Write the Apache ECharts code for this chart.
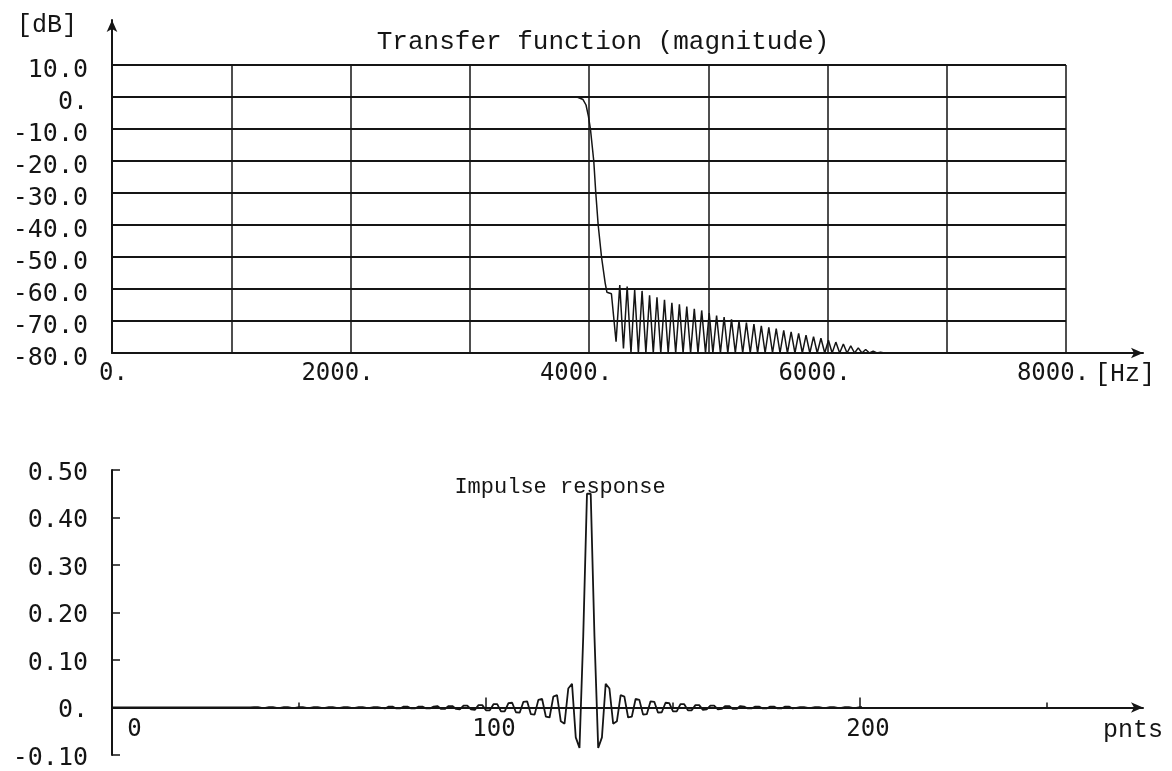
<!DOCTYPE html>
<html>
<head>
<meta charset="utf-8">
<title>Transfer function / Impulse response</title>
<script src="https://cdn.jsdelivr.net/npm/echarts@6.0.0/dist/echarts.min.js"></script>
<style>
  html, body { margin: 0; padding: 0; background: #fff; }
  #chart { width: 1172px; height: 771px; }
</style>
</head>
<body>
<div id="chart"></div>
<script>
// magnitude response (Hz / dB)
const freqHz = [
  0, 1000, 2000, 3000, 3900, 3950, 3975, 3995, 4012, 4040, 4057, 4077, 4105, 4135, 4150, 4188, 4227,
  4258, 4289, 4320, 4352, 4383, 4414, 4445, 4477, 4508, 4539, 4570, 4602,
  4633, 4664, 4695, 4727, 4758, 4789, 4820, 4852, 4883, 4914, 4945, 4977,
  5008, 5039, 5070, 5102, 5133, 5164, 5195, 5227, 5258, 5289, 5320, 5352,
  5383, 5414, 5445, 5477, 5508, 5539, 5570, 5602, 5633, 5664, 5695, 5727,
  5758, 5789, 5820, 5852, 5883, 5914, 5945, 5977, 6008, 6039, 6070, 6102,
  6133, 6164, 6195, 6227, 6258, 6289, 6320, 6352, 6383, 6414, 6445, 6477,
  8000
];
const magDb = [
  0, 0, 0, 0, 0, -0.8, -2.5, -6, -10, -20, -30, -40, -50, -58, -61, -61.5, -76.5,
  -58.8, -78.6, -59.2, -80, -60.3, -80, -60.6, -80, -62.0, -80, -62.6, -80,
  -63.4, -80, -64.3, -80, -64.8, -80, -65.5, -80, -66.2, -80, -66.7, -80,
  -67.5, -80, -68.3, -80, -68.8, -80, -69.5, -80, -70.0, -80, -70.5, -80,
  -71.0, -80, -71.5, -80, -72.0, -80, -72.4, -80, -72.9, -80, -73.4, -80,
  -73.9, -80, -74.4, -80, -74.9, -80, -75.4, -80, -76.0, -80, -76.6, -80,
  -77.2, -80, -77.8, -80, -78.4, -80, -78.9, -80, -79.4, -80, -79.8, -80,
  -80
];

// impulse response, 256 taps (index = pnts)
const impulse = [
  0, 0, 0, 0, 0, 0, 0, 0,
  0, 0, 0, 0, 0, 0, 0, 0, 0, 0,
  0, 0, 0, 0, 0, 0, 0, 0, 0, 0,
  0, 0, 0, 0, 0, 0, 0, 0, 0, 0,
  0.001, 0.001, -0.001, -0.001, 0.001, 0.001, -0.001, -0.001, 0.001, 0.001,
  -0.001, -0.001, 0.001, 0.001, -0.001, -0.001, 0.001, 0.001, -0.001, -0.001,
  0.001, 0.001, -0.001, -0.001, 0.001, 0.001, -0.001, -0.001, 0.001, 0.001,
  -0.001, -0.001, 0.001, 0.001, -0.001, -0.002, 0.002, 0.002, -0.002, -0.002,
  0.002, 0.002, -0.002, -0.002, 0.002, 0.002, -0.002, -0.002, 0.002, 0.003,
  -0.003, -0.003, 0.003, 0.003, -0.003, -0.004, 0.004, 0.004, -0.004, -0.005,
  0.005, 0.005, -0.006, -0.006, 0.007, 0.007, -0.008, -0.008, 0.009, 0.010,
  -0.010, -0.011, 0.012, 0.013, -0.014, -0.015, 0.016, 0.018, -0.019, -0.021,
  0.023, 0.026, -0.029, -0.034, 0.040, 0.050, -0.063, -0.085, 0.150, 0.450,
  0.450, 0.150, -0.085, -0.063, 0.050, 0.040, -0.034, -0.029, 0.026, 0.023,
  -0.021, -0.019, 0.018, 0.016, -0.015, -0.014, 0.013, 0.012, -0.011, -0.010,
  0.010, 0.009, -0.008, -0.008, 0.007, 0.007, -0.006, -0.006, 0.005, 0.005,
  -0.005, -0.004, 0.004, 0.004, -0.004, -0.003, 0.003, 0.003, -0.003, -0.003,
  0.003, 0.002, -0.002, -0.002, 0.002, 0.002, -0.002, -0.002, 0.002, 0.002,
  -0.002, -0.002, 0.002, 0.002, -0.002, -0.001, 0.001, 0.001, -0.001, -0.001,
  0.001, 0.001, -0.001, -0.001, 0.001, 0.001, -0.001, -0.001, 0.001, 0.001,
  -0.001, -0.001, 0.001, 0.001, -0.001, -0.001, 0.001, 0.001, -0.001, -0.001,
  0.001, 0.001, -0.001, -0.001, 0.001, 0.001, -0.001, -0.001, 0.001, 0.001,
  0, 0, 0, 0, 0, 0, 0, 0, 0, 0,
  0, 0, 0, 0, 0, 0, 0, 0, 0, 0,
  0, 0, 0, 0, 0, 0, 0, 0, 0, 0,
  0, 0, 0, 0, 0, 0, 0, 0
];

// tick labels
const freqLabels = { 0: '  0.', 2000: '2000.', 4000: '4000.', 6000: '6000.', 8000: '8000.' };
const dbTicks = [10, 0, -10, -20, -30, -40, -50, -60, -70, -80];
const pntsLabels = { 0: '  0', 100: '100', 200: '200' };

const ink = '#151515';
const mono = 'DejaVu Sans Mono';
const courier = 'Liberation Mono';

const chart = echarts.init(document.getElementById('chart'));

const transferData = freqHz.map((f, i) => [f, magDb[i]]);
const impulseData = impulse.map((v, i) => [i, v]);

const hidden = { show: false };
const arrowLine = {
  show: true,
  symbol: ['none', 'arrow'],
  symbolSize: [8, 12],
  lineStyle: { color: ink, width: 2 }
};
const box = (left, top, width, height) => ({ left, top, width, height, containLabel: false, outerBoundsMode: 'none' });

// impulse grid: 470..755 px for -0.1..0.5, so value 0 sits 47.5 px above the bottom edge
const zeroLift = -47.5;

chart.setOption({
  animation: false,
  backgroundColor: '#fff',
  title: [
    {
      text: 'Transfer function (magnitude)',
      left: 603, top: 29, textAlign: 'center', padding: 0,
      textStyle: { fontFamily: courier, fontSize: 26, fontWeight: 'normal', color: ink }
    },
    {
      text: 'Impulse response',
      left: 560, top: 476, textAlign: 'center', padding: 0,
      textStyle: { fontFamily: courier, fontSize: 22, fontWeight: 'normal', color: ink }
    }
  ],
  grid: [
    box(112, 65, 954, 288),   // magnitude plot
    box(112, 20, 1031, 333),  // its arrow axes
    box(112, 470, 748, 285),  // impulse plot (0..200)
    box(112, 470, 1031, 285), // its arrow axis
    box(112, 470, 935, 285)   // minor ticks (0..250)
  ],
  xAxis: [
    {
      gridIndex: 0, type: 'value', min: 0, max: 8000, interval: 1000,
      axisLine: hidden, axisTick: hidden,
      splitLine: { show: true, lineStyle: { color: ink, width: 1.5 } },
      axisLabel: {
        margin: 9, color: ink, fontFamily: mono, fontSize: 24,
        padding: [0, 26, 0, 0],
        formatter: v => freqLabels[v] || ''
      }
    },
    {
      gridIndex: 1, type: 'value', min: 0, max: 1,
      axisLine: arrowLine, axisTick: hidden, axisLabel: hidden, splitLine: hidden,
      name: '[Hz]', nameLocation: 'end', nameGap: -18,
      nameTextStyle: {
        fontFamily: courier, fontSize: 25, color: ink,
        align: 'center', verticalAlign: 'top', padding: [9, 0, 0, 0]
      }
    },
    {
      gridIndex: 2, type: 'value', min: 0, max: 200, interval: 100,
      position: 'bottom', offset: zeroLift,
      axisLine: { show: false, onZero: false },
      axisTick: { show: true, inside: true, length: 10, lineStyle: { color: ink, width: 1.5 } },
      splitLine: hidden,
      axisLabel: {
        margin: 10, color: ink, fontFamily: mono, fontSize: 24,
        padding: [0, 0, 0, 16],
        formatter: v => pntsLabels[v] || ''
      }
    },
    {
      gridIndex: 3, type: 'value', min: 0, max: 1,
      position: 'bottom', offset: zeroLift,
      axisLine: Object.assign({}, arrowLine, { onZero: false }),
      axisTick: hidden, axisLabel: hidden, splitLine: hidden,
      name: 'pnts', nameLocation: 'end', nameGap: -10,
      nameTextStyle: {
        fontFamily: courier, fontSize: 25, color: ink,
        align: 'center', verticalAlign: 'top', padding: [10, 0, 0, 0]
      }
    },
    {
      gridIndex: 4, type: 'value', min: 0, max: 250, interval: 50,
      position: 'bottom', offset: zeroLift,
      axisLine: { show: false, onZero: false },
      axisLabel: hidden, splitLine: hidden,
      axisTick: { show: true, inside: true, length: 5, lineStyle: { color: ink, width: 1.5 } }
    }
  ],
  yAxis: [
    {
      gridIndex: 0, type: 'value', min: -80, max: 10, interval: 10,
      axisLine: hidden, axisTick: hidden,
      splitLine: { show: true, lineStyle: { color: ink, width: 2 } },
      axisLabel: {
        margin: 24, color: ink, fontFamily: mono, fontSize: 25,
        verticalAlign: 'top', lineHeight: 10,
        formatter: v => (dbTicks.includes(v) ? (v === 0 ? '0.' : v.toFixed(1)) : '')
      }
    },
    {
      gridIndex: 1, type: 'value', min: 0, max: 1,
      axisLine: arrowLine, axisTick: hidden, axisLabel: hidden, splitLine: hidden,
      name: '[dB]', nameLocation: 'end', nameGap: -5,
      nameTextStyle: {
        fontFamily: courier, fontSize: 25, color: ink,
        align: 'right', verticalAlign: 'middle', padding: [0, 35, 0, 0]
      }
    },
    {
      gridIndex: 2, type: 'value', min: -0.1, max: 0.5, interval: 0.1,
      axisLine: { show: true, lineStyle: { color: ink, width: 2 } },
      axisTick: { show: true, inside: true, length: 8, lineStyle: { color: ink, width: 1.5 } },
      splitLine: hidden,
      axisLabel: {
        margin: 24, color: ink, fontFamily: mono, fontSize: 25,
        verticalAlign: 'top', lineHeight: 6,
        formatter: v => (Math.abs(v) < 1e-9 ? '0.' : v.toFixed(2))
      }
    },
    { gridIndex: 3, type: 'value', min: -0.1, max: 0.5, show: false },
    { gridIndex: 4, type: 'value', min: -0.1, max: 0.5, show: false }
  ],
  series: [
    {
      name: 'magnitude', type: 'line', xAxisIndex: 0, yAxisIndex: 0,
      data: transferData, showSymbol: false, symbol: 'none',
      lineStyle: { color: ink, width: 1.5 }
    },
    {
      name: 'impulse', type: 'line', xAxisIndex: 2, yAxisIndex: 2,
      data: impulseData, showSymbol: false, symbol: 'none', clip: false,
      lineStyle: { color: ink, width: 1.8 }
    }
  ]
});
</script>
</body>
</html>
